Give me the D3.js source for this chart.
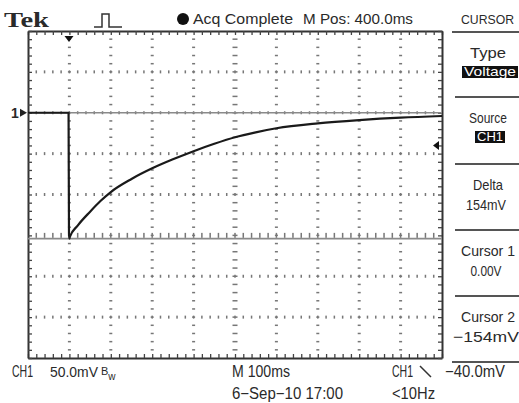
<!DOCTYPE html>
<html>
<head>
<meta charset="utf-8">
<script src="https://cdn.jsdelivr.net/npm/d3@7"></script>
<style>
  body { margin: 0; background: #fff; }
  text { font-family: "Liberation Sans Narrow", "Liberation Sans", sans-serif; fill: #2a2a2a; }
</style>
</head>
<body>
<div class="chart"></div>
<script>
// trace: time from left edge of screen (ms), level in mV
var traceTime = [0, 98, 99, 100, 101, 120, 150, 175, 200, 250, 300, 350, 400, 450, 500, 550, 600, 700, 800, 900, 1000];
var traceMv   = [0, 0, -148, -154, -152, -138, -121, -108, -97, -81, -68, -57, -47, -38, -30, -24, -19, -13, -9, -6, -4];

var cursorMv = [0, -154];
var triggerMs = 99;
var triggerMv = -40;

var menuLabels = ['Type', 'Source', 'Delta', 'Cursor 1', 'Cursor 2'];
var menuValues = ['Voltage', 'CH1', '154mV', '0.00V', '\u2212154mV'];
var menuBoxed  = [true, true, false, false, false];

var fullWidth = 519;
var fullHeight = 403;
var plot = {left: 28, right: 442, top: 31, bottom: 358};

var svg = d3.select('.chart').append('svg')
  .attr('width', fullWidth)
  .attr('height', fullHeight);

var xScale = d3.scaleLinear()
  .domain([0, 1000])
  .range([plot.left, plot.right]);

var yScale = d3.scaleLinear()
  .domain([100, -300])
  .range([plot.top, plot.bottom]);

var divX = d3.range(100, 1000, 100);
var divY = d3.range(-250, 100, 50);
var minorX = d3.range(0, 1001, 20);
var minorY = d3.range(-300, 101, 10);

// graticule dots
var grid = svg.append('g').classed('grid', true);
divX.forEach(function(t) {
  var big = t === 500;
  grid.selectAll(null)
    .data(minorY.slice(1, -1))
    .enter().append('rect')
      .attr('x', xScale(t) - (big ? 2.5 : 1.5))
      .attr('y', function(v) { return yScale(v) - 0.75; })
      .attr('width', big ? 5 : 3)
      .attr('height', 1.5)
      .attr('fill', '#777');
});
divY.forEach(function(v) {
  var big = v === -150;
  grid.selectAll(null)
    .data(minorX.slice(1, -1))
    .enter().append('rect')
      .attr('x', function(t) { return xScale(t) - 0.75; })
      .attr('y', yScale(v) - (big ? 2.5 : 1.5))
      .attr('width', 1.5)
      .attr('height', big ? 5 : 3)
      .attr('fill', '#777');
});

// border with inward ticks
function edge(axis, tx, ty) {
  var g = svg.append('g').attr('transform', 'translate(' + tx + ',' + ty + ')').call(axis);
  g.select('.domain').attr('stroke', '#333').attr('stroke-width', 2);
  g.selectAll('.tick line').attr('stroke', '#444').attr('stroke-width', 1.3);
  return g;
}
edge(d3.axisTop(xScale).tickValues(minorX).tickSize(-4).tickSizeOuter(0).tickFormat(''), 0, plot.top);
edge(d3.axisBottom(xScale).tickValues(minorX).tickSize(-4).tickSizeOuter(0).tickFormat(''), 0, plot.bottom);
edge(d3.axisLeft(yScale).tickValues(minorY).tickSize(-4).tickSizeOuter(0).tickFormat(''), plot.left, 0);
edge(d3.axisRight(yScale).tickValues(minorY).tickSize(-4).tickSizeOuter(0).tickFormat(''), plot.right, 0);

// cursors
svg.append('g').selectAll('line')
  .data(cursorMv)
  .enter().append('line')
    .attr('x1', plot.left).attr('x2', plot.right)
    .attr('y1', function(d) { return yScale(d); })
    .attr('y2', function(d) { return yScale(d); })
    .attr('stroke', '#8a8a8a')
    .attr('stroke-width', 1.6);

// trace
var line = d3.line()
  .x(function(d, i) { return xScale(traceTime[i]); })
  .y(function(d) { return yScale(d); })
  .curve(d3.curveMonotoneX);

svg.append('path')
  .datum(traceMv)
  .attr('d', line)
  .attr('fill', 'none')
  .attr('stroke', '#1a1a1a')
  .attr('stroke-width', 2.2);

// markers
var tx = xScale(triggerMs);
svg.append('path')
  .attr('d', 'M' + (tx - 4.5) + ',' + (plot.top + 5) + 'h9l-4.5,6z')
  .attr('fill', '#111');
var ty = yScale(triggerMv);
svg.append('path')
  .attr('d', 'M' + (plot.right - 9) + ',' + ty + 'l6,-4.5v9z')
  .attr('fill', '#111');
var gy = yScale(0);
svg.append('path')
  .attr('d', 'M' + (plot.left - 8) + ',' + (gy - 4) + 'l7,4l-7,4z')
  .attr('fill', '#222');
svg.append('text').attr('x', 11).attr('y', gy + 5).attr('font-size', 14).attr('font-weight', 'bold').text('1');

// top bar
function label(s, x, y, w, size, anchor) {
  return svg.append('text')
    .attr('x', x).attr('y', y)
    .attr('font-size', size)
    .attr('text-anchor', anchor || 'start')
    .attr('textLength', w)
    .attr('lengthAdjust', 'spacingAndGlyphs')
    .text(s);
}
label('Tek', 4, 27, 45, 21).style('font-family', '"Liberation Serif", serif').attr('font-weight', 'bold');
svg.append('path')
  .attr('d', 'M94,27H102V14H109V27H122')
  .attr('fill', 'none').attr('stroke', '#333').attr('stroke-width', 1.5);
svg.append('circle').attr('cx', 183).attr('cy', 19).attr('r', 6).attr('fill', '#111');
label('Acq Complete', 193, 24, 100, 15);
label('M Pos: 400.0ms', 303, 24, 110, 15);
label('CURSOR', 461, 24, 53, 13.5);

// side menu
var seps = [32, 97, 164, 230, 296, 362];
var labelW = [36, 38, 30, 54, 54];
var valueW = [52, 26, 40, 31, 66];
svg.append('g').selectAll('line')
  .data(seps)
  .enter().append('line')
    .attr('x1', function(d, i) { return i === 0 || i === 5 ? 452 : 455; }).attr('x2', 519)
    .attr('y1', function(d) { return d; }).attr('y2', function(d) { return d; })
    .attr('stroke', '#555').attr('stroke-width', 2);

menuLabels.forEach(function(s, i) {
  var top = seps[i];
  label(s, 488, top + 26, labelW[i], 15, 'middle');
  var v = menuValues[i];
  var w = valueW[i];
  if (menuBoxed[i]) {
    svg.append('rect')
      .attr('x', 490 - w / 2 - 2).attr('y', top + 34)
      .attr('width', w + 4).attr('height', 12)
      .attr('fill', '#111');
    label(v, 490, top + 44, w, 13, 'middle').style('fill', '#fff');
  } else {
    label(v, 486, top + 46, w, 15, 'middle');
  }
});

// bottom readouts
label('CH1', 12, 377, 21, 16);
label('50.0mV', 50, 377, 48, 14);
var bw = svg.append('text').attr('x', 101).attr('y', 375).attr('font-size', 11);
bw.append('tspan').text('B');
bw.append('tspan').attr('dy', 5).attr('font-size', 10).text('w');
label('M 100ms', 232, 377, 58, 16);
label('CH1', 392, 377, 21, 16);
svg.append('path').attr('d', 'M420,366L431,377').attr('stroke', '#333').attr('stroke-width', 1.5);
label('\u221240.0mV', 445, 377, 60, 16);
label('6\u2212Sep\u221210 17:00', 232, 399, 111, 16);
label('<10Hz', 392, 399, 43, 16);
</script>
</body>
</html>
